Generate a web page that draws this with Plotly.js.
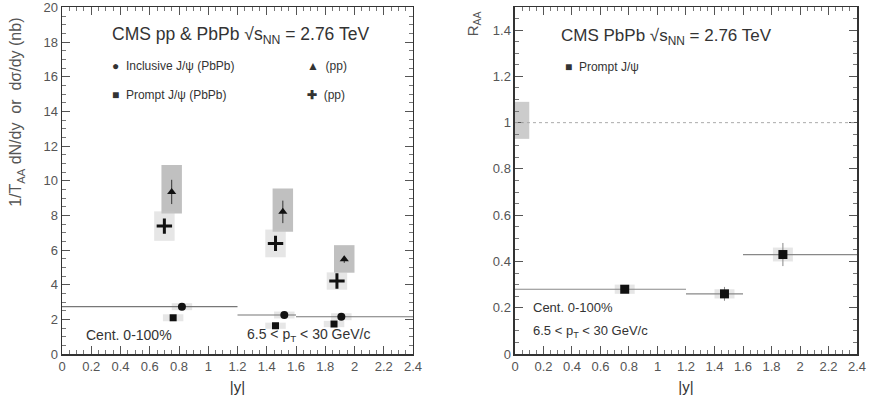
<!DOCTYPE html>
<html><head><meta charset="utf-8">
<script src="https://cdn.plot.ly/plotly-3.0.1.min.js"></script>
<style>html,body{margin:0;padding:0;background:#fff}#chart{width:870px;height:408px}</style>
</head><body><div id="chart"></div>
<script>
// ---- data: left panel (yields) ----
const incPbPbX = [0.82, 1.52, 1.91];
const incPbPbY = [2.73, 2.25, 2.15];
const incPbPbBinLo = [0.0, 1.2, 1.6];
const incPbPbBinHi = [1.2, 1.6, 2.4];
const incPbPbSys = [0.2, 0.2, 0.2];

const promptPbPbX = [0.76, 1.46, 1.86];
const promptPbPbY = [2.09, 1.63, 1.73];
const promptPbPbSys = [0.2, 0.18, 0.18];

const incPpX = [0.75, 1.51, 1.93];
const incPpY = [9.35, 8.2, 5.46];
const incPpErr = [0.7, 0.65, 0.2];
const incPpSysHi = [10.9, 9.55, 6.28];
const incPpSysLo = [8.1, 7.05, 4.69];

const promptPpX = [0.70, 1.46, 1.88];
const promptPpY = [7.38, 6.38, 4.21];
const promptPpSys = [0.85, 0.8, 0.5];

// ---- data: right panel (RAA) ----
const raaX = [0.77, 1.47, 1.88];
const raaY = [0.28, 0.26, 0.43];
const raaErr = [0.015, 0.03, 0.05];
const raaBinLo = [0.0, 1.2, 1.6];
const raaBinHi = [1.2, 1.6, 2.4];
const raaSys = [0.02, 0.02, 0.03];
const globalUnc = [0.93, 1.09];

const xTickVals = [0,0.2,0.4,0.6,0.8,1,1.2,1.4,1.6,1.8,2,2.2,2.4];
const xTickText = ['0','0.2','0.4','0.6','0.8','1','1.2','1.4','1.6','1.8','2','2.2','2.4'];
const yTickVals = [0,2,4,6,8,10,12,14,16,18,20];
const yTickText = ['0','2','4','6','8','10','12','14','16','18','20'];
const y2TickVals = [0,0.2,0.4,0.6,0.8,1,1.2,1.4];
const y2TickText = ['0','0.2','0.4','0.6','0.8','1','1.2','1.4'];

const boxHalf = 0.07;
const shapes = [];
function box(xr, yr, x0, x1, y0, y1, color){
  shapes.push({type:'rect', xref:xr, yref:yr, x0:x0, x1:x1, y0:y0, y1:y1,
    fillcolor:color, line:{width:0}, layer:'below'});
}
incPpX.forEach((x,i)=>box('x','y',x-boxHalf,x+boxHalf,incPpSysLo[i],incPpSysHi[i],'rgba(150,150,150,0.6)'));
promptPpX.forEach((x,i)=>box('x','y',x-boxHalf,x+boxHalf,promptPpY[i]-promptPpSys[i],promptPpY[i]+promptPpSys[i],'rgba(200,200,200,0.45)'));
incPbPbX.forEach((x,i)=>box('x','y',x-boxHalf,x+boxHalf,incPbPbY[i]-incPbPbSys[i],incPbPbY[i]+incPbPbSys[i],'rgba(200,200,200,0.45)'));
promptPbPbX.forEach((x,i)=>box('x','y',x-boxHalf,x+boxHalf,promptPbPbY[i]-promptPbPbSys[i],promptPbPbY[i]+promptPbPbSys[i],'rgba(200,200,200,0.45)'));
raaX.forEach((x,i)=>box('x2','y2',x-boxHalf,x+boxHalf,raaY[i]-raaSys[i],raaY[i]+raaSys[i],'rgba(200,200,200,0.45)'));
box('x2','y2',0,0.1,globalUnc[0],globalUnc[1],'rgba(170,170,170,0.6)');
shapes.push({type:'line', xref:'x2', yref:'y2', x0:0, x1:2.4, y0:1, y1:1, line:{color:'#aaa', width:1, dash:'dot'}});

const black = '#111';
const traces = [
  {x:incPbPbX, y:incPbPbY, type:'scatter', mode:'markers', xaxis:'x', yaxis:'y',
   marker:{symbol:'circle', size:8, color:black},
   error_x:{type:'data', symmetric:false,
     array:incPbPbX.map((x,i)=>incPbPbBinHi[i]-x), arrayminus:incPbPbX.map((x,i)=>x-incPbPbBinLo[i]),
     color:'#777', thickness:1.2, width:0}},
  {x:promptPbPbX, y:promptPbPbY, type:'scatter', mode:'markers', xaxis:'x', yaxis:'y',
   marker:{symbol:'square', size:7, color:black}},
  {x:incPpX, y:incPpY, type:'scatter', mode:'markers', xaxis:'x', yaxis:'y',
   marker:{symbol:'triangle-up', size:8, color:black},
   error_y:{type:'data', array:incPpErr, color:'#333', thickness:1, width:0}},
  {x:promptPpX, y:promptPpY, type:'scatter', mode:'markers', xaxis:'x', yaxis:'y',
   marker:{symbol:'cross-thin', size:11, color:black, line:{width:3, color:black}}},
  {x:raaX, y:raaY, type:'scatter', mode:'markers', xaxis:'x2', yaxis:'y2',
   marker:{symbol:'square', size:9, color:black},
   error_x:{type:'data', symmetric:false,
     array:raaX.map((x,i)=>raaBinHi[i]-x), arrayminus:raaX.map((x,i)=>x-raaBinLo[i]),
     color:'#888', thickness:1.2, width:0},
   error_y:{type:'data', array:raaErr, color:'#888', thickness:1, width:0}}
];

const FF = 'Liberation Sans, Arial, sans-serif';
const tickFont = {family:FF, size:13, color:'#555'};
function xax(domain, anchor){
  return {domain:domain, anchor:anchor, range:[0,2.4], tickvals:xTickVals, ticktext:xTickText,
    ticks:'inside', ticklen:8, tickcolor:'#555', mirror:'ticks', showline:true, linecolor:'#333', linewidth:1.5,
    showgrid:false, zeroline:false, tickfont:tickFont, ticklabeloverflow:'allow',
    minor:{ticks:'inside', ticklen:4, dtick:0.05, tickcolor:'#777'},
    title:{text:'|y|', font:{family:FF, size:15, color:'#333'}, standoff:8}};
}
const layout = {
  width:870, height:408, margin:{l:62, r:13, t:7, b:54},
  paper_bgcolor:'#fff', plot_bgcolor:'#fff', showlegend:false,
  font:{family:FF, color:'#333'},
  xaxis: xax([0,0.4415],'y'),
  xaxis2: xax([0.5698,1],'y2'),
  yaxis:{domain:[0,1], anchor:'x', range:[0,20.02], tickvals:yTickVals, ticktext:yTickText,
    ticks:'inside', ticklen:8, tickcolor:'#555', ticklabeloverflow:'allow',
    mirror:'ticks', showline:true, linecolor:'#333', linewidth:1.5, showgrid:false, zeroline:false, tickfont:tickFont,
    minor:{ticks:'inside', ticklen:4, dtick:0.5, tickcolor:'#777'}},
  yaxis2:{domain:[0,1], anchor:'x2', range:[0,1.5], tickvals:y2TickVals, ticktext:y2TickText,
    ticks:'inside', ticklen:8, tickcolor:'#555', ticklabeloverflow:'allow',
    mirror:'ticks', showline:true, linecolor:'#333', linewidth:1.5, showgrid:false, zeroline:false, tickfont:tickFont,
    minor:{ticks:'inside', ticklen:4, dtick:0.05, tickcolor:'#777'}},
  shapes: shapes,
  annotations:[
    {xref:'paper', yref:'paper', x:-0.0566, y:0.695, xanchor:'center', yanchor:'middle', showarrow:false, textangle:-90,
     text:'1/T<sub>AA</sub> dN/dy  or  dσ/dy (nb)', font:{size:16, color:'#555'}},
    {xref:'paper', yref:'paper', x:0.06, y:0.919, xanchor:'left', yanchor:'middle', showarrow:false,
     text:'CMS pp & PbPb √s<sub>NN</sub> = 2.76 TeV', font:{size:17.5, color:'#333'}},
    {xref:'paper', yref:'paper', x:0.061, y:0.83, xanchor:'left', yanchor:'middle', showarrow:false,
     text:'●  Inclusive J/ψ (PbPb)', font:{size:12, color:'#333'}},
    {xref:'paper', yref:'paper', x:0.061, y:0.746, xanchor:'left', yanchor:'middle', showarrow:false,
     text:'■  Prompt J/ψ (PbPb)', font:{size:12, color:'#333'}},
    {xref:'paper', yref:'paper', x:0.306, y:0.83, xanchor:'left', yanchor:'middle', showarrow:false,
     text:'▲  (pp)', font:{size:12, color:'#333'}},
    {xref:'paper', yref:'paper', x:0.306, y:0.746, xanchor:'left', yanchor:'middle', showarrow:false,
     text:'<b>✚</b>  (pp)', font:{size:12, color:'#333'}},
    {xref:'paper', yref:'paper', x:0.028, y:0.055, xanchor:'left', yanchor:'middle', showarrow:false,
     text:'Cent. 0-100%', font:{size:14, color:'#333'}},
    {xref:'paper', yref:'paper', x:0.23, y:0.055, xanchor:'left', yanchor:'middle', showarrow:false,
     text:'6.5 < p<sub>T</sub> < 30 GeV/c', font:{size:14, color:'#333'}},
    {xref:'paper', yref:'paper', x:0.625, y:0.913, xanchor:'left', yanchor:'middle', showarrow:false,
     text:'CMS PbPb √s<sub>NN</sub> = 2.76 TeV', font:{size:17, color:'#333'}},
    {xref:'paper', yref:'paper', x:0.63, y:0.826, xanchor:'left', yanchor:'middle', showarrow:false,
     text:'■  Prompt J/ψ', font:{size:12, color:'#333'}},
    {xref:'paper', yref:'paper', x:0.59, y:0.135, xanchor:'left', yanchor:'middle', showarrow:false,
     text:'Cent. 0-100%', font:{size:13, color:'#333'}},
    {xref:'paper', yref:'paper', x:0.59, y:0.065, xanchor:'left', yanchor:'middle', showarrow:false,
     text:'6.5 < p<sub>T</sub> < 30 GeV/c', font:{size:13, color:'#333'}},
    {xref:'paper', yref:'paper', x:0.517, y:0.95, xanchor:'center', yanchor:'middle', showarrow:false, textangle:-90,
     text:'R<sub>AA</sub>', font:{size:15, color:'#555'}}
  ]
};
Plotly.newPlot('chart', traces, layout, {staticPlot:true, displayModeBar:false});
</script></body></html>
